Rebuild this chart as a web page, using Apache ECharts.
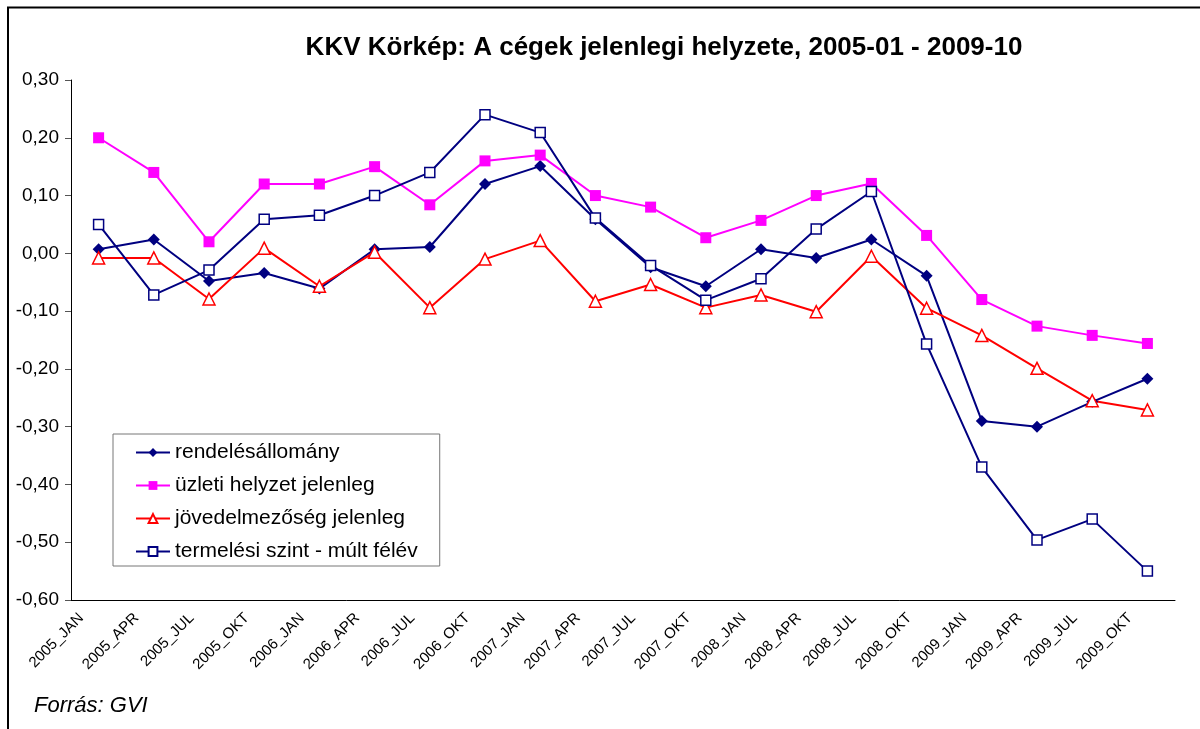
<!DOCTYPE html>
<html>
<head>
<meta charset="utf-8">
<script src="https://cdn.jsdelivr.net/npm/echarts@6/dist/echarts.min.js"></script>
<style>
html, body { margin: 0; padding: 0; background: #fff; }
#chart { width: 1200px; height: 729px; }
</style>
</head>
<body>
<div id="chart"></div>
<script>
var honapok = ['2005_JAN', '2005_APR', '2005_JUL', '2005_OKT', '2006_JAN', '2006_APR', '2006_JUL', '2006_OKT',
    '2007_JAN', '2007_APR', '2007_JUL', '2007_OKT', '2008_JAN', '2008_APR', '2008_JUL', '2008_OKT',
    '2009_JAN', '2009_APR', '2009_JUL', '2009_OKT'];

var rendeles = [0.007, 0.024, -0.048, -0.034, -0.061, 0.007, 0.011, 0.12, 0.151, 0.059,
    -0.024, -0.057, 0.007, -0.008, 0.024, -0.039, -0.29, -0.30, -0.257, -0.217];
var uzleti = [0.20, 0.14, 0.02, 0.12, 0.12, 0.15, 0.084, 0.16, 0.17, 0.10,
    0.08, 0.027, 0.057, 0.10, 0.121, 0.031, -0.08, -0.126, -0.142, -0.156];
var jovedelem = [-0.008, -0.008, -0.079, 0.009, -0.057, 0.002, -0.094, -0.01, 0.022, -0.083,
    -0.054, -0.094, -0.072, -0.101, -0.005, -0.095, -0.142, -0.199, -0.255, -0.271];
var termeles = [0.05, -0.072, -0.029, 0.059, 0.066, 0.10, 0.14, 0.24, 0.209, 0.061,
    -0.021, -0.081, -0.044, 0.042, 0.107, -0.157, -0.37, -0.496, -0.46, -0.55];

var chartDom = document.getElementById('chart');
var myChart = echarts.init(chartDom);

function vesszo(v) {
    return v.toFixed(2).replace('.', ',');
}

var option = {
    backgroundColor: '#fff',
    animation: false,
    textStyle: { fontFamily: 'Liberation Sans, Arial, sans-serif' },
    title: {
        text: 'KKV Körkép: A cégek jelenlegi helyzete, 2005-01 - 2009-10',
        left: 659,
        textAlign: 'center',
        top: 30,
        textStyle: { fontSize: 26, fontWeight: 'bold', color: '#000' }
    },
    graphic: [
        {
            type: 'rect',
            shape: { x: 8, y: 7.5, width: 1300, height: 900 },
            style: { fill: 'none', stroke: '#000', lineWidth: 2 },
            silent: true
        },
        {
            type: 'text',
            left: 34,
            top: 695,
            style: { text: 'Forrás: GVI', fontSize: 22, fontStyle: 'italic', fill: '#000',
                fontFamily: 'Liberation Sans, Arial, sans-serif' }
        }
    ],
    legend: {
        orient: 'vertical',
        left: 113,
        top: 434,
        padding: [8, 22, 4, 22],
        itemGap: 12,
        itemWidth: 34,
        itemHeight: 11,
        borderColor: '#777',
        borderWidth: 1,
        backgroundColor: '#fff',
        textStyle: { fontSize: 21, color: '#000' },
        data: ['rendelésállomány', 'üzleti helyzet jelenleg', 'jövedelmezőség jelenleg', 'termelési szint - múlt félév']
    },
    grid: { left: 71, right: 25, top: 80, bottom: 129 },
    xAxis: {
        type: 'category',
        data: honapok,
        boundaryGap: true,
        axisLine: { onZero: false, lineStyle: { color: '#000', width: 1 } },
        axisTick: { alignWithLabel: false, length: 6, lineStyle: { color: '#555' } },
        axisLabel: { rotate: 45, fontSize: 15, color: '#000', margin: 9, interval: 0,
            verticalAlign: 'bottom', padding: [0, 17, 0, 0] }
    },
    yAxis: {
        type: 'value',
        min: -0.6,
        max: 0.3,
        interval: 0.1,
        splitLine: { show: false },
        axisLine: { show: true, lineStyle: { color: '#000', width: 1 } },
        axisTick: { show: true, length: 6, lineStyle: { color: '#555' } },
        axisLabel: { fontSize: 19, color: '#000', margin: 12, formatter: vesszo }
    },
    series: [
        {
            name: 'rendelésállomány',
            type: 'line',
            data: rendeles,
            symbol: 'diamond',
            symbolSize: 12,
            lineStyle: { color: '#000080', width: 2 },
            itemStyle: { color: '#000080' }
        },
        {
            name: 'üzleti helyzet jelenleg',
            type: 'line',
            data: uzleti,
            symbol: 'rect',
            symbolSize: 11,
            lineStyle: { color: '#ff00ff', width: 2 },
            itemStyle: { color: '#ff00ff' }
        },
        {
            name: 'jövedelmezőség jelenleg',
            type: 'line',
            data: jovedelem,
            symbol: 'triangle',
            symbolSize: 12,
            lineStyle: { color: '#ff0000', width: 2 },
            itemStyle: { color: '#fff', borderColor: '#ff0000', borderWidth: 1.5 }
        },
        {
            name: 'termelési szint - múlt félév',
            type: 'line',
            data: termeles,
            symbol: 'rect',
            symbolSize: 10,
            lineStyle: { color: '#000080', width: 2 },
            itemStyle: { color: '#fff', borderColor: '#000080', borderWidth: 1.5 }
        }
    ]
};

myChart.setOption(option);
</script>
</body>
</html>
